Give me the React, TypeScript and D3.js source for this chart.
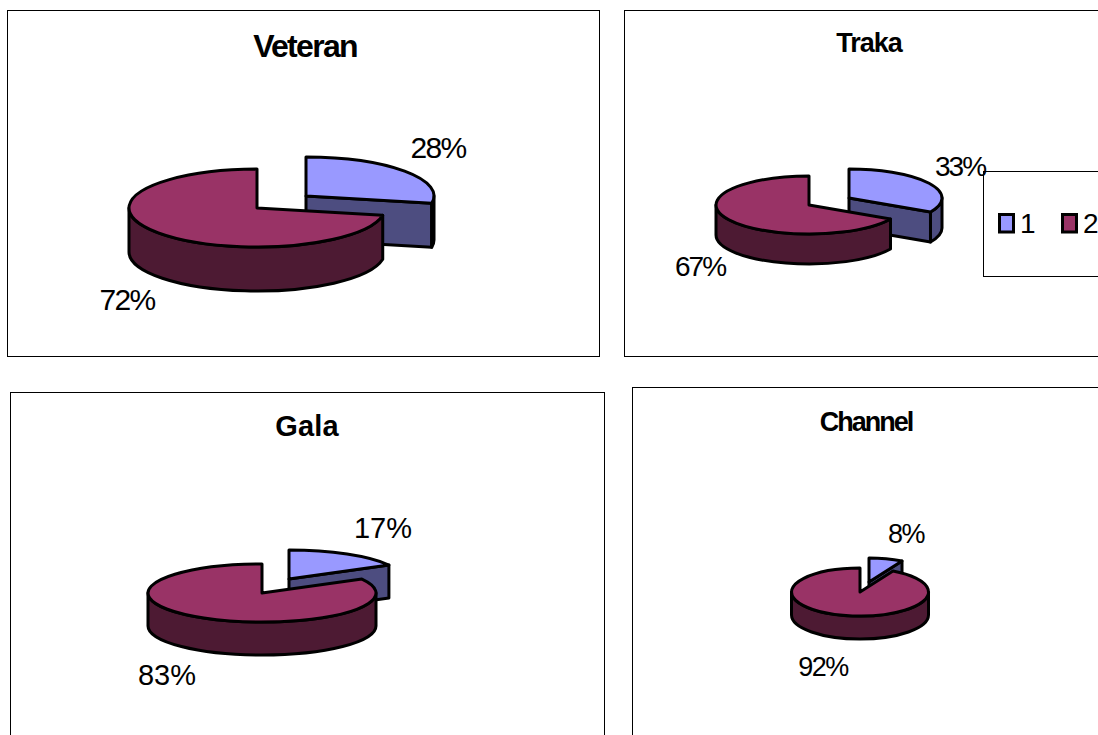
import React from "react";
import * as d3 from "d3";

const chartNames = ["Veteran", "Traka", "Gala", "Channel"];
const firstShare = [28, 33, 17, 8];
const secondShare = [72, 67, 83, 92];
const legendLabels = ["1", "2"];

const topColors = ["#9999FF", "#993366"];
const sideColors = ["#4D4D80", "#4D1A33"];

const layout = [
  { frame: [7.5, 10.5, 592, 346], title: [305, 57], titleSize: 32, titleLs: -1.7,
    c: [[306, 196], [257, 208]], rx: 128, ry: 39, depth: 44,
    lab: [[438, 158], [127, 310]], labSize: 30, labLs: -1.6 },
  { frame: [624.5, 10.5, 490, 346], title: [869, 52], titleSize: 27, titleLs: -1,
    c: [[849, 198], [809, 205]], rx: 93, ry: 29, depth: 30,
    lab: [[960, 176], [700, 276]], labSize: 28, labLs: -2 },
  { frame: [10.5, 392.5, 594, 360], title: [307, 436], titleSize: 29, titleLs: 0.2,
    c: [[289, 579], [262, 593]], rx: 114, ry: 29, depth: 33,
    lab: [[383, 538], [167, 685]], labSize: 29, labLs: 0 },
  { frame: [632.5, 387.5, 480, 360], title: [866, 431], titleSize: 27, titleLs: -2,
    c: [[869, 582], [860, 592]], rx: 68.5, ry: 24, depth: 23,
    lab: [[906, 543], [823, 676]], labSize: 27, labLs: -1.5 },
];

const FONT = "'Liberation Sans', Arial, sans-serif";

type Pt = [number, number];
type Geo = { cx: number; cy: number; rx: number; ry: number };

// clockwise angle from 12 o'clock projected on to the flattened disc
const at = (g: Geo, a: number, dy = 0): Pt => [
  g.cx + g.rx * Math.sin(a),
  g.cy - g.ry * Math.cos(a) + dy,
];
const arcTo = (g: Geo, a0: number, a1: number, dy: number, rev: boolean) => {
  const [x, y] = at(g, rev ? a0 : a1, dy);
  const large = Math.abs(a1 - a0) > Math.PI ? 1 : 0;
  return `A${g.rx},${g.ry} 0 ${large} ${rev ? 0 : 1} ${x},${y}`;
};

const topPath = (g: Geo, a0: number, a1: number) => {
  const s = at(g, a0);
  return `M${g.cx},${g.cy}L${s[0]},${s[1]}${arcTo(g, a0, a1, 0, false)}Z`;
};
const rimPath = (g: Geo, a0: number, a1: number, d: number) => {
  const lo = Math.max(a0, Math.PI / 2);
  const hi = Math.min(a1, (3 * Math.PI) / 2);
  if (hi <= lo) return null;
  const s = at(g, lo);
  const e = at(g, hi, d);
  return `M${s[0]},${s[1]}${arcTo(g, lo, hi, 0, false)}L${e[0]},${e[1]}${arcTo(g, lo, hi, d, true)}Z`;
};
const cutPath = (g: Geo, a: number, d: number) => {
  const p = at(g, a);
  return `M${g.cx},${g.cy}L${p[0]},${p[1]}L${p[0]},${p[1] + d}L${g.cx},${g.cy + d}Z`;
};

const pie = d3.pie<number>().sort(null).startAngle(0).endAngle(2 * Math.PI);

function Pie3D({ index }: { index: number }) {
  const L = layout[index];
  const arcs = pie([firstShare[index], secondShare[index]]);
  const common = { stroke: "#000", strokeWidth: 3, strokeLinejoin: "round" as const };
  const g0: Geo = { cx: L.c[0][0], cy: L.c[0][1], rx: L.rx, ry: L.ry };
  const g1: Geo = { cx: L.c[1][0], cy: L.c[1][1], rx: L.rx, ry: L.ry };
  const rim0 = rimPath(g0, arcs[0].startAngle, arcs[0].endAngle, L.depth);
  const rim1 = rimPath(g1, arcs[1].startAngle, arcs[1].endAngle, L.depth);
  return (
    <g>
      <path d={cutPath(g0, arcs[0].endAngle, L.depth)} fill={sideColors[0]} {...common} />
      {rim0 && <path d={rim0} fill={sideColors[0]} {...common} />}
      <path d={topPath(g0, arcs[0].startAngle, arcs[0].endAngle)} fill={topColors[0]} {...common} />
      {rim1 && <path d={rim1} fill={sideColors[1]} {...common} />}
      <path d={topPath(g1, arcs[1].startAngle, arcs[1].endAngle)} fill={topColors[1]} {...common} />
    </g>
  );
}

export default function App() {
  return (
    <svg
      width={1098}
      height={735}
      style={{ position: "absolute", left: 0, top: 0, background: "#fff" }}
      fontFamily={FONT}
    >
      {chartNames.map((name, i) => {
        const L = layout[i];
        return (
          <g key={name}>
            <rect x={L.frame[0]} y={L.frame[1]} width={L.frame[2]} height={L.frame[3]} fill="#fff" stroke="#000" strokeWidth={1} />
            <text x={L.title[0]} y={L.title[1]} textAnchor="middle" fontWeight="bold" fontSize={L.titleSize} letterSpacing={L.titleLs}>{name}</text>
            <Pie3D index={i} />
          </g>
        );
      })}
      <rect x={983.5} y={171.5} width={130} height={105} fill="#fff" stroke="#000" strokeWidth={1} />
      {legendLabels.map((lab, i) => (
        <g key={lab}>
          <rect x={999.5 + i * 63} y={214.5} width={14} height={17.5} fill={topColors[i]} stroke="#000" strokeWidth={3} />
          <text x={1020 + i * 63} y={233} fontSize={28}>{lab}</text>
        </g>
      ))}
      {chartNames.map((name, i) => {
        const L = layout[i];
        return (
          <g key={name}>
            <text x={L.lab[0][0]} y={L.lab[0][1]} textAnchor="middle" fontSize={L.labSize} letterSpacing={L.labLs}>{firstShare[i]}%</text>
            <text x={L.lab[1][0]} y={L.lab[1][1]} textAnchor="middle" fontSize={L.labSize} letterSpacing={L.labLs}>{secondShare[i]}%</text>
          </g>
        );
      })}
    </svg>
  );
}
